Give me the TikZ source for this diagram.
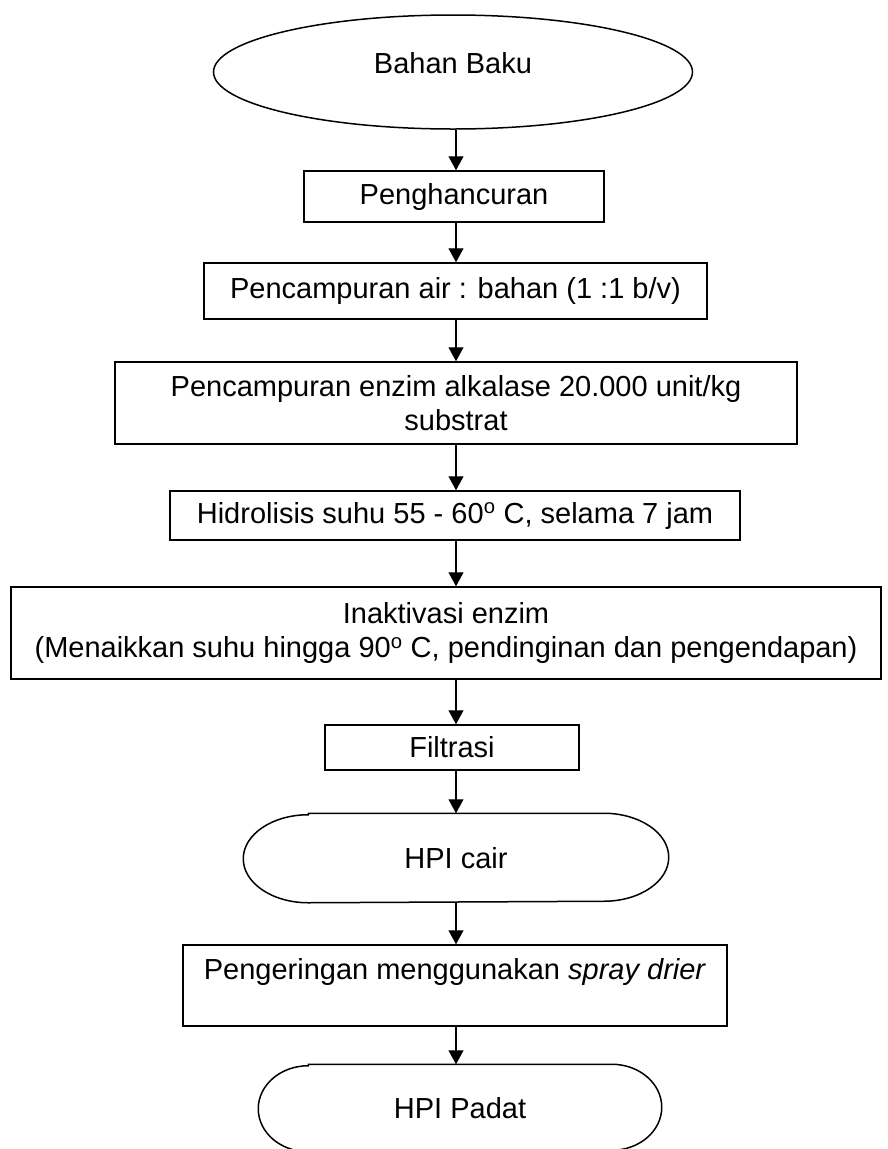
\documentclass[tikz,border=0pt]{standalone}
\usepackage{fontspec}
\setmainfont{Liberation Sans}
\usetikzlibrary{arrows.meta}
\usetikzlibrary{shapes.geometric}
\usetikzlibrary{positioning}

\begin{document}
\begin{tikzpicture}[x=1pt,y=1pt,>={Triangle[width=15pt,length=14pt]},
		line width=1.5pt]
		\tikzstyle{every node}=[font=\fontsize{29}{34}\selectfont]
		\tikzstyle{proses}=[draw,rectangle,inner sep=0pt,align=center]
		\tikzstyle{awal}=[draw,ellipse,inner sep=0pt]
		\tikzstyle{akhir}=[inner sep=0pt]
		\tikzstyle{alur}=[->,line width=1.3pt]
		
		\useasboundingbox (0,0) rectangle (887,-1149);
		\clip (0,0) rectangle (887,-1149);
		
		\node[awal, minimum width=479pt, minimum height=114pt, text depth=18pt] (Bahan) at (453,-72) {Bahan Baku};
		\node[proses, minimum width=300pt, minimum height=51pt] (Peng)   at (454,-196.5) {Penghancuran};
		\node[proses, minimum width=503pt, minimum height=56pt] (Air)    at (455.5,-291) {Pencampuran air : bahan (1 :1 b/v)};
		\node[proses, minimum width=682pt, minimum height=82pt] (Enzim)  at (456,-403)   {Pencampuran enzim alkalase 20.000 unit/kg\\substrat};
		\node[proses, minimum width=570pt, minimum height=49pt] (Hidro)  at (455,-515.5) {Hidrolisis suhu 55 - 60\textsuperscript{o} C, selama 7 jam};
		\node[proses, minimum width=870pt, minimum height=92pt] (Inakt)  at (446,-633)   {Inaktivasi enzim\\(Menaikkan suhu hingga 90\textsuperscript{o} C, pendinginan dan pengendapan)};
		\node[proses, minimum width=254pt, minimum height=45pt] (Filt)   at (452,-747.5) {Filtrasi};
		\node[akhir,  minimum width=424pt, minimum height=88pt] (Cair)   at (456,-858)   {HPI cair};
		\node[proses, minimum width=544pt, minimum height=81pt] (Kering) at (455,-985.5) {Pengeringan menggunakan \textit{spray drier}\\~};
		\node[akhir,  minimum width=402pt, minimum height=86pt] (Padat)  at (460,-1108)  {HPI Padat};
		
		% ujung bulat
		\draw ([xshift=65pt]Cair.north west) -- ([xshift=-65pt]Cair.north east)
		arc[start angle=90, end angle=-90, x radius=65pt, y radius=44pt]
		-- ([xshift=65pt]Cair.south west)
		arc[start angle=270, end angle=90, x radius=65pt, y radius=44pt] -- cycle;
		\draw ([xshift=50pt]Padat.north west) -- ([xshift=-50pt]Padat.north east)
		arc[start angle=90, end angle=-90, x radius=50pt, y radius=43pt]
		-- ([xshift=50pt]Padat.south west)
		arc[start angle=270, end angle=90, x radius=50pt, y radius=43pt] -- cycle;
		
		\coordinate (sumbu) at (456,0);
		\foreach \a/\b in {Bahan/Peng, Peng/Air, Air/Enzim, Enzim/Hidro, Hidro/Inakt,
			Inakt/Filt, Filt/Cair, Cair/Kering, Kering/Padat}
		\draw[alur] (\a.south -| sumbu) -- (\b.north -| sumbu);
\end{tikzpicture}
\end{document}
